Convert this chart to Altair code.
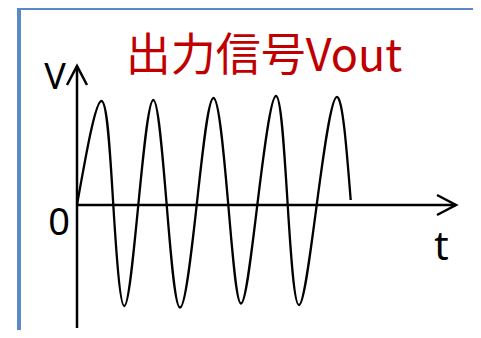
import altair as alt
import pandas as pd

# sine-like output signal: key points (time, voltage)
wave_t = [0, 0.245, 0.363, 0.473, 0.613, 0.763, 0.897, 1.03, 1.197, 1.365,
          1.513, 1.64, 1.803, 1.99, 2.107, 2.22, 2.397, 2.597, 2.737]
wave_v = [0, 1.04, 0, -1.01, 0, 1.05, 0, -1.025, 0, 1.07,
          0, -0.985, 0, 1.09, 0, -1.0, 0, 1.08, 0.05]

# axes (arrows)
t_axis_end = 3.79
v_axis_low = -1.23
v_axis_high = 1.39
arrow_t = [3.60, 3.79, 3.60, -0.10, 0.0, 0.10]
arrow_v = [0.10, 0.0, -0.10, 1.20, 1.39, 1.20]
arrow_grp = ["t", "t", "t", "v", "v", "v"]
arrow_ord = [0, 1, 2, 0, 1, 2]

# labels
label_text = ["V", "0", "t"]
label_t = [-0.22, -0.18, 3.645]
label_v = [1.16, -0.30, -0.55]
label_size = [36, 38, 40]

title_text = "出力信号Vout"
title_t = 1.87
title_v = 1.34

xs = alt.Scale(domain=[-0.69, 3.96], nice=False, zero=False)
ys = alt.Scale(domain=[-1.25, 1.97], nice=False, zero=False)

wave_df = pd.DataFrame({"t": wave_t, "v": wave_v})
wave = alt.Chart(wave_df).mark_line(
    color="black", strokeWidth=2.3, interpolate="natural"
).encode(
    x=alt.X("t:Q", scale=xs, axis=None),
    y=alt.Y("v:Q", scale=ys, axis=None),
)

axes_df = pd.DataFrame({
    "t": [0, 0], "t2": [t_axis_end, 0],
    "v": [0, v_axis_low], "v2": [0, v_axis_high],
})
axes = alt.Chart(axes_df).mark_rule(color="black", strokeWidth=2.5).encode(
    x=alt.X("t:Q", scale=xs, axis=None), x2="t2:Q",
    y=alt.Y("v:Q", scale=ys, axis=None), y2="v2:Q",
)

arrow_df = pd.DataFrame({"t": arrow_t, "v": arrow_v, "g": arrow_grp, "o": arrow_ord})
arrows = alt.Chart(arrow_df).mark_line(color="black", strokeWidth=2.5).encode(
    x=alt.X("t:Q", scale=xs, axis=None),
    y=alt.Y("v:Q", scale=ys, axis=None),
    detail="g:N",
    order="o:Q",
)

lab_df = pd.DataFrame({"label": label_text, "t": label_t, "v": label_v, "s": label_size})
labels = alt.Chart(lab_df).mark_text(
    font="Noto Sans", color="black", align="center", baseline="alphabetic"
).encode(
    x=alt.X("t:Q", scale=xs, axis=None),
    y=alt.Y("v:Q", scale=ys, axis=None),
    text="label:N",
    size=alt.Size("s:Q", scale=None, legend=None),
)

title_df = pd.DataFrame({"label": [title_text], "t": [title_t], "v": [title_v]})
title = alt.Chart(title_df).mark_text(
    font="Noto Sans CJK JP", fontSize=45, color="#C00000",
    align="center", baseline="alphabetic"
).encode(
    x=alt.X("t:Q", scale=xs, axis=None),
    y=alt.Y("v:Q", scale=ys, axis=None),
    text="label:N",
)

frame_left = alt.Chart(wave_df).mark_rule(color="#5A88C8", strokeWidth=4).encode(
    x=alt.value(11), y=alt.value(-2), y2=alt.value(330)
)
frame_top = alt.Chart(wave_df).mark_rule(color="#5A88C8", strokeWidth=4).encode(
    x=alt.value(9), x2=alt.value(470), y=alt.value(0)
)

chart = alt.layer(
    frame_left, frame_top, axes, arrows, wave, labels, title
).properties(
    width=465, height=322, padding=0,
    autosize=alt.AutoSizeParams(type="none"),
    background="white",
).configure_view(stroke=None)

chart.save("out.html", embed_options={"renderer": "svg", "actions": False})
